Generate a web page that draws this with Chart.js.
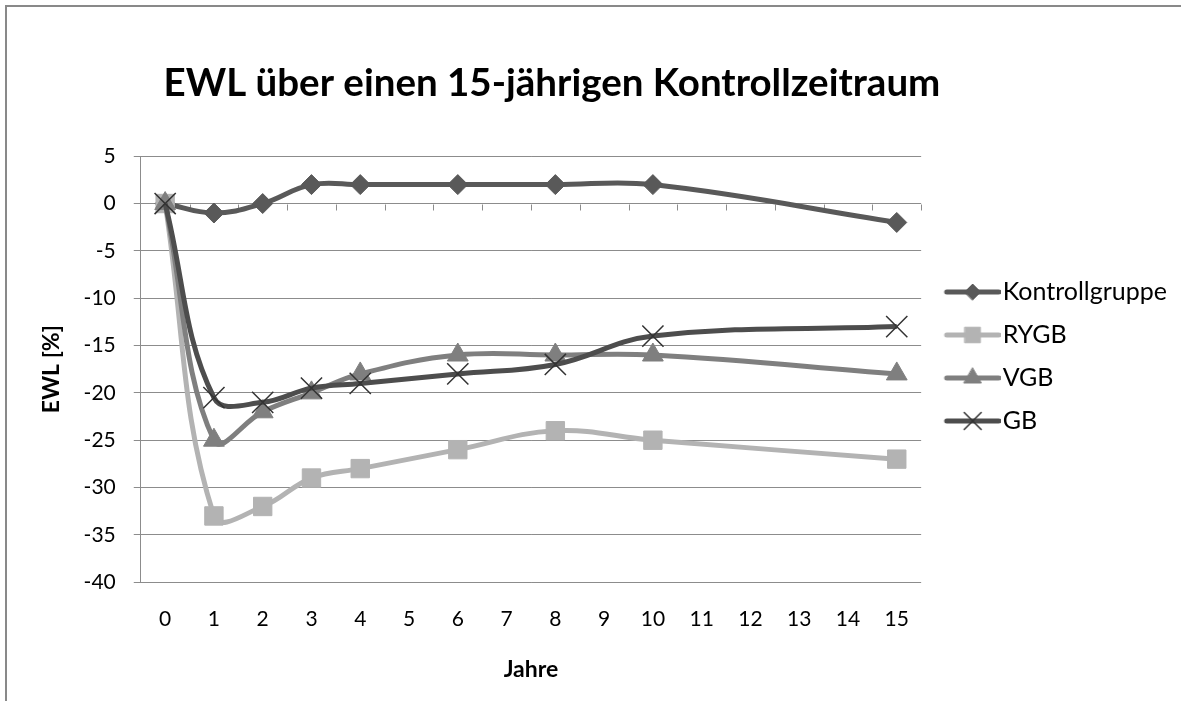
<!DOCTYPE html>
<html>
<head>
<meta charset="utf-8">
<script src="https://cdn.jsdelivr.net/npm/chart.js@4.4.1/dist/chart.umd.min.js"></script>
<style>
    html, body { margin: 0; padding: 0; background: #fff; }
    #wrap { position: relative; width: 1181px; height: 701px; overflow: hidden; }
    #wrap canvas { position: absolute; left: 0; top: 0; }
    #frame { position: absolute; left: 5px; top: 5px; width: 1300px; height: 900px;
             border-left: 2px solid #898989; border-top: 2px solid #898989; pointer-events: none; }
</style>
</head>
<body>
<div id="wrap">
    <canvas id="ewlChart" width="1181" height="701"></canvas>
    <div id="frame"></div>
</div>
<script>
// Jahre 0..15, Messpunkte nur bei 0,1,2,3,4,6,8,10,15
const years = ["0", "1", "2", "3", "4", "5", "6", "7", "8", "9", "10", "11", "12", "13", "14", "15"];
const kontrollgruppe = [0, -1, 0, 2, 2, null, 2, null, 2, null, 2, null, null, null, null, -2];
const rygb = [0, -33, -32, -29, -28, null, -26, null, -24, null, -25, null, null, null, null, -27];
const vgb = [0, -25, -22, -20, -18, null, -16, null, -16, null, -16, null, null, null, null, -18];
const gb = [0, -20.5, -21, -19.5, -19, null, -18, null, -17, null, -14, null, null, null, null, -13];
const yMin = -40;
const yMax = 5;
const yStep = 5;

const gridColor = "#8c8c8c";
const fontFamily = "Lato, 'Open Sans', sans-serif";

const series = [
    { label: "Kontrollgruppe", data: kontrollgruppe, color: "#595959", marker: "rectRot", radius: 10, legendRadius: 8, order: 3 },
    { label: "RYGB", data: rygb, color: "#b3b3b3", marker: "rect", radius: 13, legendRadius: 11, order: 2 },
    { label: "VGB", data: vgb, color: "#7f7f7f", marker: "triangle", radius: 12, legendRadius: 10, order: 1 },
    { label: "GB", data: gb, color: "#4d4d4d", marker: "crossRot", radius: 15, legendRadius: 12, order: 0 },
];

// legend icon: line with marker in the middle (left part of the canvas stays empty)
function makeLegendIcon(s) {
    const c = document.createElement("canvas");
    c.width = 72;
    c.height = 28;
    const ctx = c.getContext("2d");
    ctx.strokeStyle = s.color;
    ctx.lineWidth = 5;
    ctx.lineCap = "round";
    ctx.beginPath();
    ctx.moveTo(18, 14);
    ctx.lineTo(70, 14);
    ctx.stroke();
    ctx.fillStyle = s.color;
    ctx.strokeStyle = s.marker === "crossRot" ? "#333333" : s.color;
    ctx.lineWidth = s.marker === "crossRot" ? 1.5 : 1;
    Chart.helpers.drawPoint(ctx, { pointStyle: s.marker, radius: s.legendRadius, rotation: 0, borderWidth: ctx.lineWidth }, 44, 14);
    return c;
}
const legendIcons = series.map(makeLegendIcon);

// small tick marks on the zero line between the years
const zeroLineTicks = {
    id: "zeroLineTicks",
    beforeDatasetsDraw(chart) {
        const xs = chart.scales.x;
        const ys = chart.scales.y;
        const ctx = chart.ctx;
        const y0 = Math.round(ys.getPixelForValue(0)) + 0.5;
        const half = (xs.getPixelForValue(1) - xs.getPixelForValue(0)) / 2;
        ctx.save();
        ctx.strokeStyle = gridColor;
        ctx.lineWidth = 1;
        ctx.beginPath();
        for (let i = 0; i < years.length; i++) {
            const px = Math.round(xs.getPixelForValue(i) + half) + 0.5;
            ctx.moveTo(px, y0);
            ctx.lineTo(px, y0 + 6);
        }
        ctx.stroke();
        ctx.restore();
    }
};

// title sits a bit right of the plot centre, legend a bit lower, as in the original
const boxNudge = {
    id: "boxNudge",
    afterLayout(chart) {
        chart.titleBlock.left += 21;
        chart.titleBlock.right += 21;
        chart.legend.top += 6;
        chart.legend.bottom += 6;
    }
};

const ctx = document.getElementById("ewlChart").getContext("2d");
const ewlChart = new Chart(ctx, {
    type: "line",
    data: {
        labels: years,
        datasets: series.map(s => ({
            label: s.label,
            data: s.data,
            order: s.order,
            borderColor: s.color,
            backgroundColor: s.color,
            borderWidth: 5,
            tension: 0.4,
            spanGaps: true,
            fill: false,
            pointStyle: s.marker,
            pointRadius: s.radius,
            pointBackgroundColor: s.color,
            pointBorderColor: s.marker === "crossRot" ? "#333333" : s.color,
            pointBorderWidth: s.marker === "crossRot" ? 1.5 : 1,
        })),
    },
    options: {
        responsive: false,
        animation: false,
        layout: {
            padding: { left: 36, right: 4, top: 0, bottom: 0 }
        },
        scales: {
            x: {
                type: "category",
                offset: true,
                grid: { display: false, drawTicks: false, offset: true },
                border: { display: false },
                ticks: {
                    color: "#000",
                    padding: 24,
                    font: { family: fontFamily, size: 21 },
                    maxRotation: 0,
                    autoSkip: false,
                },
                title: {
                    display: true,
                    text: "Jahre",
                    color: "#000",
                    font: { family: fontFamily, size: 23, weight: "bold" },
                    padding: { top: 0, bottom: 18 },
                },
            },
            y: {
                min: yMin,
                max: yMax,
                grid: { color: gridColor, lineWidth: 1, tickLength: 7, drawTicks: true },
                border: { display: true, color: gridColor, width: 1 },
                ticks: {
                    stepSize: yStep,
                    color: "#000",
                    padding: 18,
                    font: { family: fontFamily, size: 21 },
                },
                title: {
                    display: true,
                    text: "EWL [%]",
                    color: "#000",
                    font: { family: fontFamily, size: 23, weight: "bold" },
                    padding: { top: 2, bottom: 0 },
                },
            },
        },
        plugins: {
            title: {
                display: true,
                text: "EWL über einen 15-jährigen Kontrollzeitraum",
                color: "#000",
                font: { family: fontFamily, size: 38.5, weight: "bold" },
                padding: { top: 60, bottom: 50 },
                fullSize: false,
            },
            legend: {
                position: "right",
                align: "center",
                labels: {
                    usePointStyle: true,
                    pointStyleWidth: 51,
                    padding: 18,
                    color: "#000",
                    font: { family: fontFamily, size: 25 },
                    generateLabels: function(chart) {
                        return chart.data.datasets.map((ds, i) => ({
                            text: ds.label,
                            pointStyle: legendIcons[i],
                            fillStyle: series[i].color,
                            strokeStyle: series[i].color,
                            lineWidth: 0,
                            fontColor: "#000",
                            hidden: !chart.isDatasetVisible(i),
                            datasetIndex: i,
                        }));
                    }
                }
            },
            tooltip: { enabled: false },
        },
    },
    plugins: [zeroLineTicks, boxNudge],
});
</script>
</body>
</html>
